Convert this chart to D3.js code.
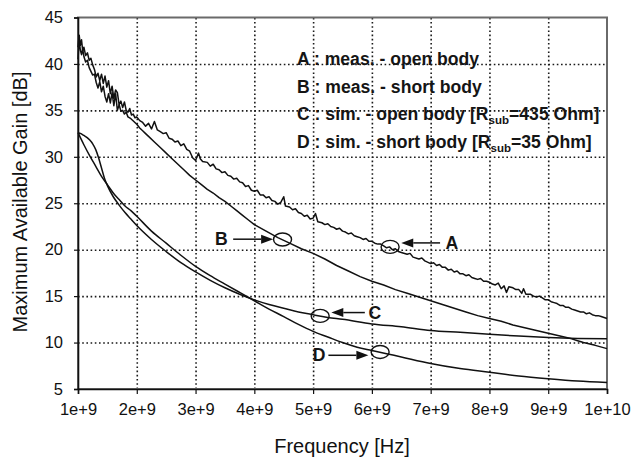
<!DOCTYPE html>
<html><head><meta charset="utf-8">
<script src="https://cdn.jsdelivr.net/npm/d3@7"></script>
<style>
html,body{margin:0;padding:0;background:#fff;}
svg{display:block;font-family:"Liberation Sans",Arial,Helvetica,sans-serif;}
</style></head><body>
<svg id="chart" width="632" height="460"></svg>
<script>
// ---------- data (frequency in GHz, gain in dB) ----------
const xTickValues = [1, 2, 3, 4, 5, 6, 7, 8, 9, 10];
const xTickLabels = ["1e+9", "2e+9", "3e+9", "4e+9", "5e+9", "6e+9", "7e+9", "8e+9", "9e+9", "1e+10"];
const yTickValues = [5, 10, 15, 20, 25, 30, 35, 40, 45];

// A : measured - open body
const freqA = [1.00,1.02,1.04,1.06,1.08,1.10,1.13,1.16,1.19,1.22,1.25,1.28,1.31,1.34,1.37,1.40,1.43,1.46,1.49,1.52,1.55,1.58,1.61,1.64,1.67,1.70,1.73,1.76,1.79,1.82,1.85,1.88,1.91,1.94,1.97,2.00,2.05,2.10,2.15,2.20,2.25,2.30,2.35,2.40,2.45,2.50,2.55,2.60,2.65,2.70,2.75,2.80,2.85,2.90,2.95,3.00,3.05,3.08,3.12,3.20,3.25,3.30,3.35,3.40,3.45,3.50,3.55,3.60,3.65,3.70,3.75,3.80,3.85,3.90,3.95,4.00,4.05,4.10,4.15,4.20,4.25,4.30,4.35,4.40,4.45,4.50,4.53,4.60,4.65,4.70,4.75,4.80,4.85,4.90,4.95,5.00,5.04,5.08,5.15,5.20,5.25,5.30,5.35,5.40,5.45,5.50,5.55,5.60,5.65,5.70,5.75,5.80,5.85,5.90,5.95,6.00,6.05,6.10,6.15,6.20,6.25,6.30,6.35,6.40,6.45,6.50,6.60,6.65,6.70,6.80,6.85,6.90,7.00,7.05,7.10,7.15,7.20,7.25,7.30,7.35,7.40,7.45,7.50,7.55,7.60,7.65,7.70,7.75,7.80,7.85,7.90,7.95,8.00,8.05,8.10,8.15,8.20,8.25,8.29,8.33,8.40,8.45,8.50,8.55,8.58,8.62,8.70,8.75,8.80,8.85,8.90,8.95,9.00,9.05,9.10,9.15,9.20,9.25,9.30,9.35,9.40,9.45,9.50,9.55,9.60,9.65,9.70,9.75,9.80,9.85,9.90,9.95,10.00];
const gainA = [41.8,43.1,42.0,42.6,41.4,41.8,40.9,41.2,40.4,40.6,39.9,39.4,38.6,39.0,38.2,38.9,37.9,38.7,37.5,38.2,36.8,37.6,36.3,37.2,36.9,35.6,36.0,35.3,35.9,35.0,34.8,35.2,34.5,34.6,34.2,34.3,33.9,33.7,33.3,33.6,33.0,33.8,32.9,32.7,32.5,32.6,32.0,31.9,31.6,31.7,31.2,31.4,30.8,30.6,29.9,29.6,30.4,29.8,29.5,29.4,29.0,29.2,28.7,28.6,28.3,28.4,28.0,27.9,27.6,27.7,27.3,27.2,26.8,26.9,26.4,26.3,26.4,25.9,25.9,25.6,25.7,25.3,25.2,24.9,25.1,25.7,24.7,24.6,24.3,24.4,24.0,23.9,23.6,23.7,23.3,23.4,23.9,23.0,22.9,22.7,22.8,22.5,22.4,22.2,22.3,22.0,21.9,21.7,21.8,21.5,21.4,21.3,21.1,21.2,20.9,20.9,20.7,20.6,20.6,20.4,20.2,20.3,20.0,20.1,19.8,19.7,19.5,19.6,19.2,19.0,19.1,18.8,18.5,18.6,18.3,18.4,18.1,18.1,17.8,17.9,17.6,17.7,17.4,17.4,17.2,17.3,17.0,16.9,16.8,16.9,16.6,16.6,16.5,16.3,16.2,16.4,15.8,16.1,15.4,16.0,15.9,15.7,15.7,15.3,15.8,15.2,15.2,15.0,14.9,15.0,14.8,14.6,14.6,14.4,14.3,14.2,14.0,14.0,13.8,13.8,13.6,13.5,13.4,13.3,13.3,13.1,13.2,13.0,12.9,12.9,12.8,12.7,12.6];

// B : measured - short body
const freqB = [1.00,1.02,1.04,1.06,1.08,1.10,1.13,1.16,1.19,1.22,1.25,1.28,1.31,1.34,1.37,1.40,1.43,1.46,1.49,1.52,1.55,1.58,1.61,1.64,1.67,1.70,1.73,1.76,1.79,1.82,1.85,1.90,1.95,2.00,2.05,2.10,2.15,2.20,2.30,2.40,2.50,2.60,2.70,2.80,2.90,3.00,3.10,3.20,3.30,3.40,3.50,3.60,3.70,3.80,3.90,4.00,4.20,4.40,4.60,4.80,5.00,5.20,5.40,5.60,5.80,6.00,6.20,6.40,6.60,6.80,7.00,7.20,7.40,7.60,7.80,8.00,8.20,8.40,8.60,8.80,9.00,9.20,9.40,9.50,9.60,9.80,10.00];
const gainB = [40.5,42.5,41.5,41.0,41.6,40.8,40.2,40.4,39.6,39.2,38.8,38.9,38.0,37.4,38.1,37.0,37.6,36.5,35.9,36.8,35.8,36.9,35.5,36.8,35.0,35.6,34.9,35.0,34.6,34.8,34.3,34.1,33.8,33.5,33.1,32.8,32.5,32.2,31.6,31.0,30.4,29.8,29.2,28.6,28.0,27.5,27.0,26.5,26.1,25.6,25.2,24.7,24.2,23.7,23.2,22.7,22.0,21.3,20.7,20.1,19.6,19.0,18.3,17.7,17.1,16.6,16.2,15.7,15.3,14.9,14.5,14.1,13.7,13.3,12.9,12.6,12.3,11.9,11.6,11.3,11.0,10.7,10.4,10.2,10.0,9.7,9.35];

// C : simulated - open body [Rsub=435 Ohm]
const freqC = [1.00,1.05,1.10,1.15,1.20,1.25,1.30,1.35,1.40,1.45,1.50,1.60,1.70,1.80,1.90,2.00,2.25,2.50,2.75,3.00,3.25,3.50,3.75,4.00,4.25,4.50,4.75,5.00,5.25,5.50,6.00,6.50,7.00,7.50,8.00,8.50,9.00,9.50,10.00];
const gainC = [32.6,32.5,32.3,32.1,31.8,31.4,30.8,29.9,28.8,27.7,26.9,25.7,24.8,24.0,23.3,22.6,21.1,19.8,18.6,17.6,16.7,15.9,15.2,14.6,14.1,13.7,13.3,13.0,12.7,12.5,12.0,11.7,11.3,11.1,10.9,10.7,10.55,10.45,10.4];

// D : simulated - short body [Rsub=35 Ohm]
const freqD = [1.00,1.10,1.20,1.30,1.40,1.50,1.60,1.70,1.80,1.90,2.00,2.25,2.50,2.75,3.00,3.25,3.50,3.75,4.00,4.25,4.50,4.75,5.00,5.25,5.50,5.75,6.00,6.25,6.50,7.00,7.50,8.00,8.50,9.00,9.50,10.00];
const gainD = [32.6,31.3,30.1,29.0,27.9,27.0,26.1,25.4,24.7,24.2,23.6,22.0,20.7,19.4,18.2,17.2,16.3,15.4,14.5,13.6,12.8,11.95,11.2,10.6,10.0,9.5,9.15,8.8,8.45,7.75,7.2,6.8,6.4,6.1,5.85,5.7];

// annotations: label, circle centre (GHz, dB), arrow tail/tip (GHz), arrow level (dB), label position (GHz)
const annLabels   = ["A", "B", "C", "D"];
const annCircleF  = [6.31, 4.48, 5.12, 6.14];
const annCircleG  = [20.3, 21.1, 12.87, 8.99];
const annTailF    = [7.16, 3.64, 5.88, 5.26];
const annTipF     = [6.50, 4.32, 5.31, 5.94];
const annArrowG   = [20.73, 21.13, 13.23, 8.63];
const annLabelF   = [7.36, 3.44, 6.05, 5.10];

const legendLines = [
  {pre: "A : meas. - open body"},
  {pre: "B : meas. - short body"},
  {pre: "C : sim. - open body [R", sub: "sub", post: "=435 Ohm]"},
  {pre: "D : sim. - short body [R", sub: "sub", post: "=35 Ohm]"}
];

// ---------- drawing ----------
const svg = d3.select("#chart");
const x = d3.scaleLinear().domain([1, 10]).range([78, 607]);
const y = d3.scaleLinear().domain([5, 45]).range([389, 17.5]);

// dotted grid built with d3 axes (long ticks, no labels)
const gx = svg.append("g").attr("transform", `translate(0,${y(5)})`)
  .call(d3.axisBottom(x).tickValues(xTickValues.slice(1, -1)).tickSize(-(y(5) - y(45))).tickFormat(""));
const gy = svg.append("g").attr("transform", `translate(${x(1)},0)`)
  .call(d3.axisLeft(y).tickValues(yTickValues.slice(1, -1)).tickSize(-(x(10) - x(1))).tickFormat(""));
[gx, gy].forEach(g => {
  g.select(".domain").remove();
  g.selectAll(".tick line").attr("stroke", "#1a1a1a").attr("stroke-width", 1.6).attr("stroke-dasharray", "1.6,2.6");
});

// frame
svg.append("rect").attr("x", x(1)).attr("y", y(45)).attr("width", x(10) - x(1)).attr("height", y(5) - y(45))
  .style("fill", "none").attr("stroke", "#6a6a6a").attr("stroke-width", 2);

// curves
const series = [
  {f: freqA, g: gainA, curve: d3.curveLinear},
  {f: freqB, g: gainB, curve: d3.curveLinear},
  {f: freqC, g: gainC, curve: d3.curveMonotoneX},
  {f: freqD, g: gainD, curve: d3.curveMonotoneX}
];
series.forEach(s => {
  const pts = s.f.map((f, i) => [f, s.g[i]]);
  svg.append("path").datum(pts)
    .attr("d", d3.line().x(d => x(d[0])).y(d => y(d[1])).curve(s.curve))
    .style("fill", "none").attr("stroke", "#111").attr("stroke-width", 1.5).attr("stroke-linejoin", "round");
});

// axes
const yAxis = svg.append("g").attr("transform", `translate(${x(1)},0)`)
  .call(d3.axisLeft(y).tickValues(yTickValues).tickSize(4).tickPadding(11).tickFormat(d3.format("d")));
const xAxis = svg.append("g").attr("transform", `translate(0,${y(5)})`)
  .call(d3.axisBottom(x).tickValues(xTickValues).tickSize(5).tickPadding(9).tickFormat((d, i) => xTickLabels[i]));
[yAxis, xAxis].forEach(a => {
  a.select(".domain").attr("stroke", "#111").attr("stroke-width", 1.6);
  a.selectAll(".tick line").attr("stroke", "#111").attr("stroke-width", 1.2);
  a.selectAll(".tick text").attr("font-size", 16.5).attr("fill", "#111")
    .attr("font-family", '"Liberation Sans",Arial,sans-serif');
});

// axis titles
svg.append("text").attr("transform", "translate(27,202) rotate(-90)").attr("text-anchor", "middle")
  .attr("font-size", 20).attr("fill", "#111").text("Maximum Available Gain [dB]");
svg.append("text").attr("x", 342).attr("y", 453).attr("text-anchor", "middle")
  .attr("font-size", 20).attr("fill", "#111").text("Frequency [Hz]");

// legend
const leg = svg.append("g").attr("font-size", 17.6).attr("font-weight", "bold").attr("fill", "#151515");
legendLines.forEach((l, i) => {
  const t = leg.append("text").attr("x", 297).attr("y", 65 + i * 27.6);
  t.append("tspan").text(l.pre);
  if (l.sub) {
    t.append("tspan").attr("font-size", 11.5).attr("dy", 4).text(l.sub);
    t.append("tspan").attr("dy", -4).text(l.post);
  }
});

// annotations
const ann = svg.append("g");
annLabels.forEach((lab, i) => {
  ann.append("ellipse").attr("cx", x(annCircleF[i])).attr("cy", y(annCircleG[i]))
    .attr("rx", 9).attr("ry", 6.5).style("fill", "none").attr("stroke", "#111").attr("stroke-width", 1.4);
  const xt = x(annTailF[i]), xp = x(annTipF[i]), ya = y(annArrowG[i]);
  const dir = Math.sign(xp - xt), headLen = 12, headHalf = 4.5;
  ann.append("line").attr("x1", xt).attr("x2", xp - dir * headLen).attr("y1", ya).attr("y2", ya)
    .attr("stroke", "#111").attr("stroke-width", 1.5);
  ann.append("path")
    .attr("d", `M${xp},${ya}L${xp - dir * headLen},${ya - headHalf}L${xp - dir * headLen},${ya + headHalf}Z`)
    .attr("fill", "#111");
  ann.append("text").attr("x", x(annLabelF[i])).attr("y", ya + 6).attr("text-anchor", "middle")
    .attr("font-size", 17.6).attr("font-weight", "bold").attr("fill", "#151515").text(lab);
});
</script>
</body></html>
